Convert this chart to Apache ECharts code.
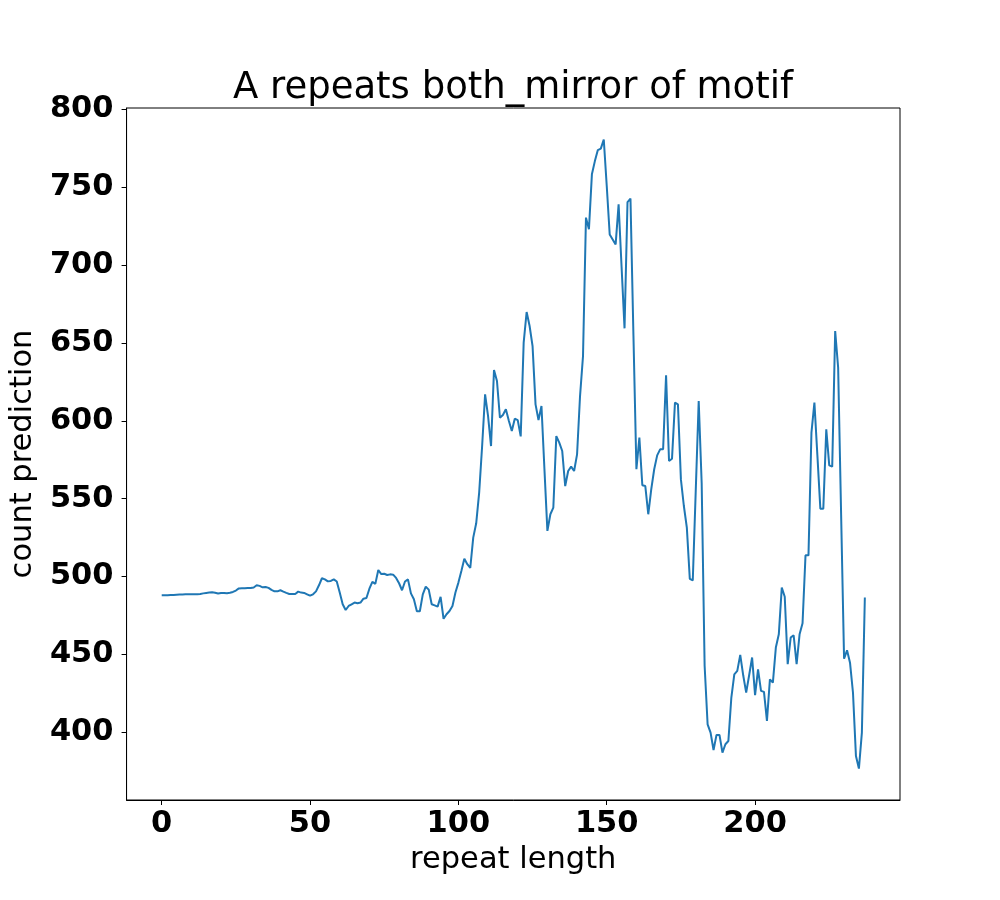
<!DOCTYPE html>
<html>
<head>
<meta charset="utf-8">
<title>A repeats both_mirror of motif</title>
<script src="https://cdn.jsdelivr.net/npm/echarts@6/dist/echarts.min.js"></script>
<style>
  html, body { margin: 0; padding: 0; background: #fff; }
  #chart { width: 1000px; height: 900px; }
</style>
</head>
<body>
<div id="chart"></div>
<script>
// count prediction per repeat length (x = index, 0..237)
const countPrediction = [
  488, 488, 488, 488.1, 488.2, 488.3, 488.4, 488.5, 488.6, 488.6,
  488.7, 488.7, 488.6, 488.8, 489.2, 489.5, 489.7, 489.9, 489.6, 489.1,
  489.4, 489.5, 489.3, 489.6, 490.1, 491, 492.4, 492.5, 492.5, 492.6,
  492.6, 493, 494.4, 494, 493.1, 493.3, 492.7, 491.4, 490.5, 490.5,
  491.2, 490.3, 489.5, 488.8, 488.8, 488.8, 490.3, 489.7, 489.5, 488.6,
  487.7, 488.6, 490.5, 494.4, 498.9, 498.2, 496.9, 497.2, 498.2, 496.8,
  489.7, 482.2, 478.5, 481.1, 482.2, 483.3, 482.8, 483.3, 485.8, 486.2,
  492.2, 496.6, 495.3, 504.2, 501.6, 501.8, 501, 501.4, 501.2, 499.1,
  495.7, 491.2, 496.8, 498.2, 489.2, 485.4, 477.7, 477.7, 488.6, 493.5,
  491.6, 482.2, 481.5, 480.7, 487, 472.9, 475.8, 477.9, 481.1, 489.7,
  496.1, 503.6, 511.5, 507.9, 505.5, 525, 534.2, 553.9, 583.8, 617,
  603, 583.8, 632.6, 625.6, 602, 603.8, 607.4, 600, 593.5, 601.4,
  600.5, 590, 650.2, 669.9, 660.9, 648, 610.6, 600.5, 609.5, 569,
  529.3, 540, 544.3, 590.2, 586, 580.6, 558.1, 567.8, 570.6, 567.8,
  578.5, 615.9, 641.6, 730.5, 723, 758.3, 766.8, 773.9, 774.8, 780.7,
  751, 719.7, 716.5, 713.3, 739, 699, 659.4, 740.5, 742.7, 655,
  568.9, 589.2, 558.6, 558.1, 540, 556, 568.9, 577.8, 581.7, 581.7,
  629.2, 574.2, 575.7, 611.7, 610.6, 562.4, 545.3, 531.4, 498.5, 497.5,
  555, 612.7, 560, 442.6, 405.1, 399.8, 388.6, 398.3, 398.3, 386.9,
  392.3, 394.4, 422.3, 437.2, 439.4, 449.7, 436.6, 425.5, 436.6, 448,
  423.8, 440.4, 426.6, 425.9, 407.3, 434, 431.9, 454.4, 462.9, 492.9,
  487, 443.7, 460.8, 462.3, 443.7, 462.9, 470, 513.6, 513.6, 592.4,
  611.7, 578, 543.6, 543.6, 594.5, 571.4, 570.6, 657.7, 634.2, 540,
  447.3, 452.6, 444.7, 425.5, 384.8, 376.7, 399.8, 486.5
];
const xTicks = [0, 50, 100, 150, 200];
const yTicks = [400, 450, 500, 550, 600, 650, 700, 750, 800];

const FONT = 'DejaVu Sans';

// matplotlib-like 5% padding around the data
const n = countPrediction.length;
const xPad = (n - 1) * 0.05;
const yMinV = Math.min(...countPrediction);
const yMaxV = Math.max(...countPrediction);
const yPad = (yMaxV - yMinV) * 0.05;

const chart = echarts.init(document.getElementById('chart'), null, { renderer: 'canvas' });

const option = {
  backgroundColor: '#ffffff',
  animation: false,
  title: {
    text: 'A repeats both_mirror of motif',
    left: 508,
    textAlign: 'center',
    top: 65,
    textStyle: { fontFamily: FONT, fontSize: 37, fontWeight: 'normal', color: '#000' }
  },
  grid: {
    left: 125, right: 100, top: 108, bottom: 100,
    show: true, borderColor: '#000', borderWidth: 1, backgroundColor: 'transparent'
  },
  xAxis: {
    type: 'value',
    min: -xPad,
    max: n - 1 + xPad,
    name: 'repeat length',
    nameLocation: 'middle',
    nameGap: 40,
    nameTextStyle: { fontFamily: FONT, fontSize: 30.5, color: '#000' },
    axisLine: { show: true, onZero: false, lineStyle: { color: '#000', width: 1 } },
    axisTick: { show: true, length: 5, customValues: xTicks, lineStyle: { color: '#000', width: 1 } },
    axisLabel: {
      customValues: xTicks, margin: 9,
      fontFamily: FONT, fontSize: 30.5, fontWeight: 'bold', color: '#000'
    },
    splitLine: { show: false }
  },
  yAxis: {
    type: 'value',
    min: yMinV - yPad,
    max: yMaxV + yPad,
    name: 'count prediction',
    nameLocation: 'middle',
    nameGap: 80,
    nameTextStyle: { fontFamily: FONT, fontSize: 30.5, color: '#000' },
    axisLine: { show: true, onZero: false, lineStyle: { color: '#000', width: 1 } },
    axisTick: { show: true, length: 5, customValues: yTicks, lineStyle: { color: '#000', width: 1 } },
    axisLabel: {
      customValues: yTicks, margin: 13,
      fontFamily: FONT, fontSize: 30.5, fontWeight: 'bold', color: '#000'
    },
    splitLine: { show: false }
  },
  series: [
    {
      type: 'line',
      data: countPrediction.map((v, i) => [i, v]),
      showSymbol: false,
      lineStyle: { color: '#1f77b4', width: 2 },
      itemStyle: { color: '#1f77b4' }
    }
  ]
};

chart.setOption(option);
</script>
</body>
</html>
